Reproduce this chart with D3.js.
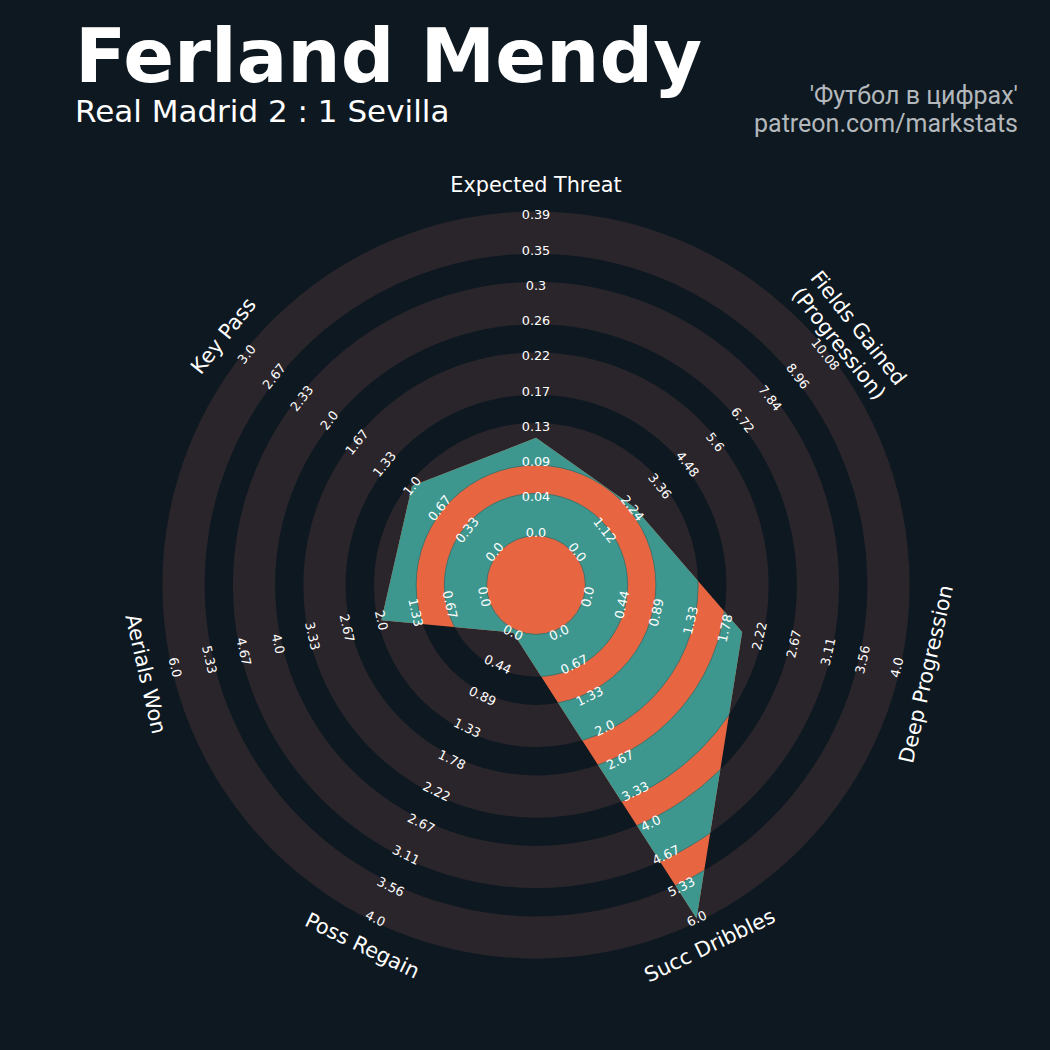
<!DOCTYPE html>
<html><head><meta charset="utf-8">
<script src="https://cdn.jsdelivr.net/npm/d3@7"></script>
<style>html,body{margin:0;padding:0;background:#0e1820;}</style>
</head><body>
<svg id="chart" width="1050" height="1050"></svg>
<script>
// ---------------- data ----------------
const params = ["Expected Threat", "Fields Gained\n(Progression)", "Deep Progression", "Succ Dribbles", "Poss Regain", "Aerials Won", "Key Pass"];
const values = [0.116, 2.3, 2.0, 6.0, 0.0, 2.0, 1.0];
const lowRange = [0, 0, 0, 0, 0, 0, 0];
const highRange = [0.39, 10.08, 4.0, 6.0, 4.0, 6.0, 3.0];
const rangeLabels = [
  ["0.0","0.04","0.09","0.13","0.17","0.22","0.26","0.3","0.35","0.39"],
  ["0.0","1.12","2.24","3.36","4.48","5.6","6.72","7.84","8.96","10.08"],
  ["0.0","0.44","0.89","1.33","1.78","2.22","2.67","3.11","3.56","4.0"],
  ["0.0","0.67","1.33","2.0","2.67","3.33","4.0","4.67","5.33","6.0"],
  ["0.0","0.44","0.89","1.33","1.78","2.22","2.67","3.11","3.56","4.0"],
  ["0.0","0.67","1.33","2.0","2.67","3.33","4.0","4.67","5.33","6.0"],
  ["0.0","0.33","0.67","1.0","1.33","1.67","2.0","2.33","2.67","3.0"]
];
const title = "Ferland Mendy";
const subtitle = "Real Madrid 2 : 1 Sevilla";
const creditLines = ["'Футбол в цифрах'", "patreon.com/markstats"];

// ---------------- layout ----------------
const W = 1050, H = 1050;
const cx = 536, cy = 585;
const unitPx = 35.25;          // one ring width in px
const centerUnits = 1.5;       // center circle radius (ring units)
const numRings = 9;
const edgePad = 3.5;           // ring edge line thickening
const labelR = 400;
const colors = {bg: "#0e1820", ring: "#29252b", radar: "#e76641", radarRing: "#3e978f", text: "#ffffff", credit: "#b3b8bc"};

const svg = d3.select("#chart");
svg.append("rect").attr("width", W).attr("height", H).attr("fill", colors.bg);

const unit = d3.scaleLinear().domain([0, 1]).range([0, unitPx]);
const n = params.length;
const angle = d3.scaleLinear().domain([0, n]).range([0, 2 * Math.PI]);
const rScales = params.map((p, i) => d3.scaleLinear()
  .domain([lowRange[i], highRange[i]])
  .range([unit(centerUnits), unit(centerUnits + numRings)]));

const g = svg.append("g").attr("transform", `translate(${cx},${cy})`);

// background rings
const ringStarts = d3.range(centerUnits, centerUnits + numRings, 2);
const arc = d3.arc().startAngle(0).endAngle(2 * Math.PI);
g.append("g").selectAll("path").data(ringStarts).join("path")
  .attr("d", d => arc({innerRadius: unit(d) - edgePad, outerRadius: unit(d + 1) + edgePad}))
  .attr("fill", colors.ring);

// radar polygon
const radial = d3.lineRadial()
  .angle((d, i) => angle(i))
  .radius((d, i) => rScales[i](d))
  .curve(d3.curveLinearClosed);
const polyPath = radial(values);

const defs = svg.append("defs");
defs.append("clipPath").attr("id", "radarClip")
  .append("path").attr("d", polyPath).attr("transform", `translate(${cx},${cy})`);

g.append("path").attr("d", polyPath).attr("fill", colors.radar);
g.append("circle").attr("r", unit(centerUnits)).attr("fill", colors.radar);

svg.append("g").attr("clip-path", "url(#radarClip)")
  .append("g").attr("transform", `translate(${cx},${cy})`)
  .selectAll("path").data(ringStarts).join("path")
  .attr("d", d => arc({innerRadius: unit(d) - edgePad, outerRadius: unit(d + 1) + edgePad}))
  .attr("fill", colors.radarRing)
  .attr("stroke", "#2f6f69").attr("stroke-width", 0.8);

// text layer on top
const tg = svg.append("g").attr("transform", `translate(${cx},${cy})`);

function rot(i) {
  let a = angle(i) * 180 / Math.PI;
  if (a > 90 && a < 270) a -= 180;
  return a;
}
function pos(i, r) {
  const a = angle(i);
  return [r * Math.sin(a), -r * Math.cos(a)];
}

// range labels
params.forEach((p, i) => {
  rangeLabels[i].forEach((lab, k) => {
    const r = unit(centerUnits + k);
    const [x, y] = pos(i, r);
    tg.append("text")
      .attr("transform", `translate(${x},${y}) rotate(${rot(i)})`)
      .attr("text-anchor", "middle").attr("dominant-baseline", "central")
      .attr("font-family", "DejaVu Sans").attr("font-size", 12.8)
      .attr("fill", colors.text).text(lab);
  });
});

// param labels
params.forEach((p, i) => {
  const [x, y] = pos(i, labelR);
  const lines = p.split("\n");
  const t = tg.append("text")
    .attr("transform", `translate(${x},${y}) rotate(${rot(i)})`)
    .attr("text-anchor", "middle")
    .attr("font-family", "DejaVu Sans").attr("font-size", 20.8)
    .attr("fill", colors.text);
  const lh = 1.2;
  lines.forEach((ln, k) => {
    t.append("tspan").attr("x", 0)
      .attr("dy", k === 0 ? `${(0.35 - (lines.length - 1) * lh / 2)}em` : `${lh}em`)
      .text(ln);
  });
});

// titles
svg.append("text").attr("x", 75).attr("y", 82)
  .attr("font-family", "DejaVu Sans").attr("font-weight", "bold").attr("font-size", 75)
  .attr("fill", colors.text).text(title);
svg.append("text").attr("x", 75).attr("y", 122)
  .attr("font-family", "DejaVu Sans").attr("font-size", 31)
  .attr("fill", colors.text).text(subtitle);
svg.selectAll("text.credit").data(creditLines).join("text").attr("class", "credit")
  .attr("x", 1018).attr("y", (d, i) => 104 + i * 27.5)
  .attr("text-anchor", "end")
  .attr("font-family", "Roboto").attr("font-size", 25)
  .attr("fill", colors.credit).text(d => d);
</script>
</body></html>
